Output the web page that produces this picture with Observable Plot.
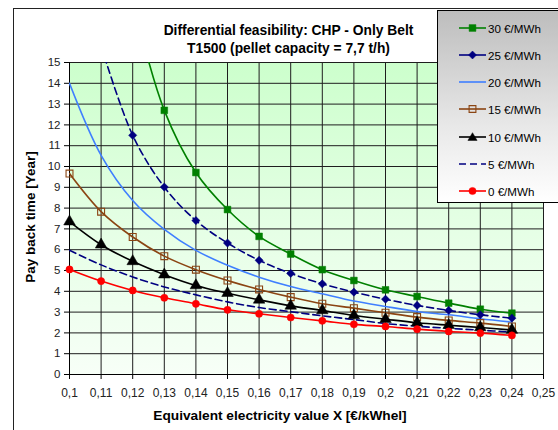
<!DOCTYPE html>
<html><head><meta charset="utf-8">
<script src="https://cdn.jsdelivr.net/npm/d3@7"></script>
<script src="https://cdn.jsdelivr.net/npm/@observablehq/plot@0.6"></script>
<style>
body{margin:0;background:#fff;font-family:"Liberation Sans",Arial,sans-serif;}
#wrap{position:relative;width:558px;height:430px;overflow:hidden;background:#fff;}
#frame{position:absolute;left:13px;top:8px;width:700px;height:600px;border:1.5px solid #222;box-sizing:border-box;}
#bg{position:absolute;left:69px;top:62px;width:474px;height:312px;background:linear-gradient(to bottom,#ccffcc 0%,#e6ffe6 55%,#f7fff7 100%);}
#chart{position:absolute;left:0;top:0;}
#title{position:absolute;left:0;width:577px;top:22px;text-align:center;font-weight:bold;font-size:13.8px;line-height:17.5px;color:#000;}
#xlabel{position:absolute;left:0;width:560px;top:408px;text-align:center;font-weight:bold;font-size:13.7px;color:#000;}
#ylabel{position:absolute;left:30px;top:217px;transform:translate(-50%,-50%) rotate(-90deg);white-space:nowrap;font-weight:bold;font-size:13.5px;color:#000;}
#legend{position:absolute;left:437px;top:10px;width:140px;height:193px;border:1px solid #000;box-sizing:border-box;background:linear-gradient(to bottom,#bdbdbd 0%,#e8e8e8 60%,#ffffff 100%);}
.lrow{position:absolute;left:0;height:20px;display:flex;align-items:center;font-size:11.6px;color:#000;}
.lrow svg{margin-left:21px;margin-right:2px;}
</style></head><body>
<div id="wrap">
  <div id="frame"></div>
  <div id="bg"></div>
  <div id="chart"></div>
  <div id="title">Differential feasibility: CHP - Only Belt<br>T1500 (pellet capacity = 7,7 t/h)</div>
  <div id="xlabel">Equivalent electricity value X [€/kWhel]</div>
  <div id="ylabel">Pay back time [Year]</div>
  <div id="legend"></div>
</div>
<script>
// x values (€/kWhel)
const xValues = [0.10, 0.11, 0.12, 0.13, 0.14, 0.15, 0.16, 0.17, 0.18, 0.19, 0.20, 0.21, 0.22, 0.23, 0.24];
// pay back time [Year] per electricity price series
const s30 = [null, null, 18.0, 12.7, 9.71, 7.93, 6.64, 5.79, 5.04, 4.52, 4.07, 3.75, 3.43, 3.14, 2.95];
const s25 = [null, 15.8, 11.5, 9.01, 7.40, 6.32, 5.49, 4.86, 4.36, 3.96, 3.62, 3.32, 3.08, 2.87, 2.71];
const s20 = [14.0, 10.54, 8.37, 6.98, 5.97, 5.25, 4.68, 4.23, 3.88, 3.53, 3.27, 3.03, 2.87, 2.68, 2.52];
const s15 = [9.66, 7.83, 6.61, 5.69, 5.04, 4.52, 4.09, 3.72, 3.40, 3.19, 2.97, 2.76, 2.60, 2.47, 2.31];
const s10 = [7.35, 6.24, 5.44, 4.80, 4.28, 3.91, 3.59, 3.30, 3.08, 2.84, 2.66, 2.49, 2.37, 2.26, 2.14];
const s5  = [5.97, 5.27, 4.69, 4.21, 3.83, 3.49, 3.22, 3.02, 2.82, 2.64, 2.45, 2.32, 2.22, 2.13, 2.04];
const s0  = [5.05, 4.49, 4.04, 3.69, 3.40, 3.11, 2.92, 2.74, 2.58, 2.41, 2.31, 2.18, 2.07, 1.99, 1.88];

const seriesNames = ["30 €/MWh", "25 €/MWh", "20 €/MWh", "15 €/MWh", "10 €/MWh", "5 €/MWh", "0 €/MWh"];
const seriesValues = [s30, s25, s20, s15, s10, s5, s0];
const seriesColors = ["#008000", "#000080", "#3f7fff", "#8b4513", "#000000", "#000080", "#ff0000"];
const seriesDash = [null, "7,4", null, null, null, "7,4", null];
const seriesSymbol = ["square", "diamond2", null, "square", "triangle", null, "circle"];
const seriesR = [3.8, 3.7, 0, 3.9, 4.3, 0, 3.6];
const seriesFilled = [true, true, false, false, true, false, true];

const xTicks = [0.10, 0.11, 0.12, 0.13, 0.14, 0.15, 0.16, 0.17, 0.18, 0.19, 0.20, 0.21, 0.22, 0.23, 0.24, 0.25];
const yTicks = [0, 1, 2, 3, 4, 5, 6, 7, 8, 9, 10, 11, 12, 13, 14, 15];

const fmtX = d => String(+d.toFixed(2)).replace(".", ",");

const marks = [
  Plot.gridX(xTicks, {stroke: "#1e1e1e", strokeOpacity: 1, strokeWidth: 1}),
  Plot.gridY(yTicks, {stroke: "#1e1e1e", strokeOpacity: 1, strokeWidth: 1}),
  Plot.axisX(xTicks, {tickFormat: fmtX, tickSize: 5, tickPadding: 9, label: null, stroke: "#000", fill: "#222", fontSize: 12}),
  Plot.axisY(yTicks, {tickSize: 5, tickPadding: 4, label: null, stroke: "#000", fill: "#222", fontSize: 11.5}),
  Plot.ruleX([0.10], {stroke: "#000"}),
  Plot.ruleY([0], {stroke: "#000"})
];

seriesNames.forEach((name, i) => {
  const rows = xValues.map((x, j) => ({x, y: seriesValues[i][j]})).filter(d => d.y != null);
  marks.push(Plot.line(rows, {x: "x", y: "y", stroke: seriesColors[i], strokeWidth: 1.6,
    strokeDasharray: seriesDash[i], curve: "catmull-rom", clip: true}));
});
seriesNames.forEach((name, i) => {
  if (!seriesSymbol[i]) return;
  const rows = xValues.map((x, j) => ({x, y: seriesValues[i][j]})).filter(d => d.y != null && d.y <= 15);
  marks.push(Plot.dot(rows, {x: "x", y: "y", symbol: () => seriesSymbol[i], r: seriesR[i],
    fill: seriesFilled[i] ? seriesColors[i] : "none",
    stroke: seriesColors[i], strokeWidth: seriesFilled[i] ? 0.5 : 1.1}));
});

const chart = Plot.plot({
  width: 558, height: 430,
  marginLeft: 69, marginRight: 15, marginTop: 62, marginBottom: 56,
  x: {domain: [0.10, 0.25]},
  y: {domain: [0, 15]},
  style: {background: "transparent", fontFamily: "Liberation Sans, Arial, sans-serif", fontSize: "12px"},
  marks
});
document.getElementById("chart").appendChild(chart);

// legend
const legend = document.getElementById("legend");
const rowY = [16, 43, 70, 97, 125, 152, 179];
const sym = {
  square: "M-3.4,-3.4h6.8v6.8h-6.8z",
  diamond2: "M0,-4L4,0L0,4L-4,0z",
  triangle: "M0,-4.3L4.6,3.4L-4.6,3.4z",
  circle: "M-3.6,0a3.6,3.6 0 1,0 7.2,0a3.6,3.6 0 1,0 -7.2,0"
};
seriesNames.forEach((name, i) => {
  const row = document.createElement("div");
  row.className = "lrow";
  row.style.top = (rowY[i] - 10 + 1) + "px";
  const c = seriesColors[i];
  let s = `<svg width="27" height="20"><line x1="0" x2="27" y1="10" y2="10" stroke="${c}" stroke-width="1.6" ${i === 5 ? 'stroke-dasharray="7,4"' : ''}/>`;
  if (seriesSymbol[i]) {
    s += `<path transform="translate(13.5,10)" d="${sym[seriesSymbol[i]]}" fill="${seriesFilled[i] ? c : 'none'}" stroke="${c}" stroke-width="${seriesFilled[i] ? 0.5 : 1.1}"/>`;
  }
  s += `</svg><span>${name}</span>`;
  row.innerHTML = s;
  legend.appendChild(row);
});
</script>
</body></html>
